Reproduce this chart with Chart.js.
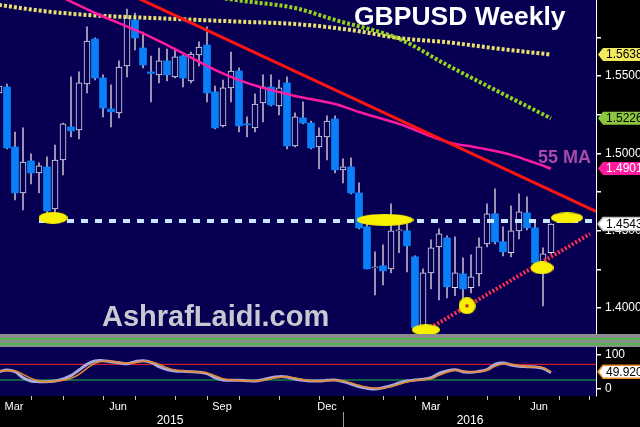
<!DOCTYPE html>
<html>
<head>
<meta charset="utf-8">
<script src="https://cdn.jsdelivr.net/npm/chart.js@4.4.1/dist/chart.umd.min.js"></script>
<style>
  html, body { margin: 0; padding: 0; background: #000; }
  #wrap { position: relative; width: 640px; height: 427px; overflow: hidden; background: #000; font-family: "Liberation Sans", Arial, sans-serif; }
  #main { position: absolute; left: 0; top: 0; }
  #osc { position: absolute; left: 0; top: 347px; }
  #band { position: absolute; left: 0; top: 334px; width: 640px; height: 13px; background: #8c8c8c; }
  #band .g { position: absolute; left: 0; width: 640px; height: 2px; background: #4cb84c; }
  .txt { position: absolute; white-space: nowrap; font-weight: bold; line-height: 1; }
</style>
</head>
<body>
<div id="wrap">
  <canvas id="main" width="640" height="334"></canvas>
  <div id="band"><div class="g" style="top:4px"></div><div class="g" style="top:9px"></div></div>
  <canvas id="osc" width="640" height="80"></canvas>
  <div class="txt" style="left:354px;top:3px;font-size:26.5px;color:#fff">GBPUSD Weekly</div>
  <div class="txt" style="left:538px;top:148px;font-size:18px;color:#a84aa8">55 MA</div>
  <div class="txt" style="left:102px;top:302px;font-size:29px;color:#c8c8d2">AshrafLaidi.com</div>
</div>
<script>
// weekly candles, index 0 = first (partly hidden) bar on the left
const opens  = [1.5390,1.5429,1.5041,1.4744,1.4951,1.4873,1.4912,1.4641,1.4957,1.5171,
                1.5151,1.5448,1.5739,1.5487,1.5287,1.5261,1.5565,1.5862,1.5681,1.5526,
                1.5507,1.5597,1.5494,1.5629,1.5468,1.5636,1.5700,1.5397,1.5177,1.5423,
                1.5532,1.5190,1.5164,1.5326,1.5429,1.5306,1.5455,1.5048,1.5229,1.5196,
                1.5041,1.5106,1.5222,1.4893,1.4912,1.4744,1.4525,1.4260,1.4273,1.4253,
                1.4499,1.4499,1.4331,1.3872,1.4227,1.4395,1.4453,1.4131,1.4221,1.4131,
                1.4221,1.4415,1.4609,1.4428,1.4357,1.4499,1.4615,1.4518,1.4298,1.4357];
const highs  = [1.5448,1.5448,1.5138,1.5164,1.4996,1.4938,1.4977,1.5054,1.5196,1.5494,
                1.5526,1.5817,1.5746,1.5507,1.5442,1.5597,1.5933,1.5907,1.5784,1.5629,
                1.5681,1.5674,1.5681,1.5636,1.5655,1.5720,1.5817,1.5435,1.5474,1.5655,
                1.5552,1.5235,1.5384,1.5507,1.5507,1.5474,1.5494,1.5261,1.5332,1.5209,
                1.5164,1.5242,1.5242,1.4964,1.4970,1.4809,1.4550,1.4363,1.4408,1.4673,
                1.4557,1.4544,1.4337,1.4253,1.4441,1.4512,1.4466,1.4460,1.4324,1.4344,
                1.4453,1.4673,1.4770,1.4525,1.4660,1.4738,1.4718,1.4550,1.4389,1.4544];
const lows   = [1.5377,1.5028,1.4699,1.4634,1.4802,1.4744,1.4615,1.4615,1.4860,1.5106,
                1.5093,1.5390,1.5474,1.5235,1.5171,1.5229,1.5494,1.5668,1.5552,1.5332,
                1.5455,1.5468,1.5487,1.5429,1.5455,1.5565,1.5332,1.5158,1.5171,1.5332,
                1.5138,1.5106,1.5138,1.5203,1.5306,1.5248,1.5028,1.5041,1.5190,1.5028,
                1.4899,1.4957,1.4873,1.4809,1.4738,1.4512,1.4253,1.4085,1.4150,1.4227,
                1.4357,1.4234,1.3859,1.3859,1.4124,1.4053,1.4066,1.4079,1.4053,1.4098,
                1.4143,1.4395,1.4415,1.4337,1.4331,1.4447,1.4505,1.4260,1.4014,1.4350];
const closes = [1.5435,1.5035,1.4744,1.4944,1.4873,1.4919,1.4628,1.4957,1.5190,1.5145,
                1.5455,1.5726,1.5487,1.5293,1.5268,1.5558,1.5875,1.5746,1.5571,1.5516,
                1.5597,1.5507,1.5623,1.5487,1.5642,1.5687,1.5390,1.5164,1.5423,1.5532,
                1.5177,1.5184,1.5319,1.5429,1.5313,1.5423,1.5048,1.5235,1.5196,1.5035,
                1.5112,1.5209,1.4893,1.4912,1.4744,1.4518,1.4253,1.4266,1.4240,1.4499,
                1.4505,1.4402,1.3872,1.4227,1.4389,1.4479,1.4137,1.4227,1.4124,1.4202,
                1.4395,1.4609,1.4428,1.4363,1.4499,1.4621,1.4518,1.4292,1.4350,1.4543];

// moving averages (bar index, price)
const ma200Idx = [0, 6, 12, 19, 25, 31, 37, 44, 50, 56, 62, 69];
const ma200Val = [1.5959,1.5917,1.5891,1.5875,1.5862,1.5849,1.5836,1.5797,1.5745,1.5718,1.5679,1.5638];
const ma100Idx = [27, 30, 37, 42, 50, 56, 62, 69];
const ma100Val = [1.6010,1.5988,1.5939,1.5862,1.5740,1.5571,1.5410,1.5226];
const ma55Idx  = [7, 9, 12, 18, 22, 27, 31, 37, 42, 45, 50, 56, 60, 64, 67, 69];
const ma55Val  = [1.6030,1.5980,1.5907,1.5775,1.5674,1.5539,1.5455,1.5371,1.5319,1.5267,1.5190,1.5074,1.5035,1.4990,1.4938,1.4901];

// drawn lines
const downTrendIdx = [17, 74.625];
const downTrendVal = [1.6012, 1.4624];
const upTrendIdx   = [53.5, 73.875];
const upTrendVal   = [1.3859, 1.4479];
const supportIdx   = [5, 74.625];
const supportVal   = [1.4563, 1.4563];

// highlighted spots
const spotIdx = [6.75, 48.25, 53.375, 58.5, 67.875, 71];
const spotVal = [1.4583, 1.4570, 1.3859, 1.4014, 1.4260, 1.4583];

// price tags on the right axis
const tagValues = [1.5638, 1.5226, 1.4901, 1.4543];

// stochastic oscillator
const stochK = [50,55,50,32,22,20,20,22,28,38, 55,72,82,83,80,77,74,80,83,78,
                65,56,52,51,50,48,44,32,25,24, 24,23,22,26,32,35,34,28,24,22,
                22,24,25,20,13,5,0,-2,2,8, 16,22,25,27,32,45,52,56,50,48,
                51,56,72,76,70,66,65,64,60,47];
const stochD = [52,53,52,42,30,22,20,21,24,30, 42,60,75,81,81,78,75,77,81,80,
                72,62,55,52,50,49,46,38,29,25, 24,23,23,24,29,33,34,31,26,23,
                22,23,24,22,16,9,3,0,0,5, 12,19,24,26,29,39,48,54,52,49,
                50,54,66,73,72,68,65,64,62,50];
const stochLast = 49.920;
const stochHigh = 72, stochLow = 25;

// axis labels
const priceTicks = [1.375,1.400,1.425,1.450,1.475,1.500,1.525,1.550,1.575,1.600];
const monthTickIdx  = [4, 8, 13, 17, 22, 26, 30, 35, 40, 43, 48, 52, 56, 61, 65, 70, 73.75];
const monthLabelIdx = [1.875, 14.875, 27.875, 41, 54, 67.5];
const monthLabels   = ['Mar', 'Jun', 'Sep', 'Dec', 'Mar', 'Jun'];
const yearLabelIdx  = [21.375, 58.875];
const yearLabels    = ['2015', '2016'];
const yearSepIdx    = [43];

const X_MIN = 0.125, X_MAX = 74.625;
const NAVY = '#070052';

const idx = opens.map((_, i) => i);
const upBodies = idx.filter(i => closes[i] >= opens[i]).map(i => ({x: i, y: [opens[i], closes[i]]}));
const downBodies = idx.filter(i => closes[i] < opens[i]).map(i => ({x: i, y: [opens[i], closes[i]]}));
const wicks = idx.map(i => ({x: i, y: [lows[i], highs[i]]}));
const pts = (xs, ys) => xs.map((x, i) => ({x: x, y: ys[i]}));

function spotImage(w, h, dot) {
  const c = document.createElement('canvas');
  c.width = w; c.height = h;
  const g = c.getContext('2d');
  g.fillStyle = '#f8f000';
  g.beginPath();
  g.ellipse(w / 2, h / 2, w / 2, h / 2, 0, 0, Math.PI * 2);
  g.fill();
  if (dot) {
    g.fillStyle = '#d02040';
    g.fillRect(w / 2 - 1.5, h / 2 - 1.5, 3, 3);
  }
  return c;
}
const spotStyles = [spotImage(29, 12), spotImage(57, 12), spotImage(28, 11),
                    spotImage(17, 17, true), spotImage(23, 13), spotImage(32, 11)];

const background = {
  id: 'background',
  beforeDraw(chart) {
    const {ctx, chartArea: a} = chart;
    ctx.save();
    ctx.fillStyle = '#000';
    ctx.fillRect(0, 0, chart.width, chart.height);
    ctx.fillStyle = NAVY;
    ctx.fillRect(a.left, a.top, a.right - a.left, a.bottom - a.top);
    ctx.restore();
  }
};

function drawTag(ctx, y, text, bg, fg, border) {
  const x0 = 598, h = 13;
  ctx.save();
  ctx.beginPath();
  ctx.moveTo(x0, y);
  ctx.lineTo(x0 + 5, y - h / 2);
  ctx.lineTo(641, y - h / 2);
  ctx.lineTo(641, y + h / 2);
  ctx.lineTo(x0 + 5, y + h / 2);
  ctx.closePath();
  ctx.fillStyle = bg;
  ctx.fill();
  if (border) {
    ctx.strokeStyle = border;
    ctx.lineWidth = 1.5;
    ctx.stroke();
  }
  ctx.fillStyle = fg;
  ctx.font = '12px "Liberation Sans", Arial, sans-serif';
  ctx.textBaseline = 'middle';
  ctx.fillText(text, x0 + 8, y + 0.5);
  ctx.restore();
}

const tagColors = [['#f2ea5e', '#000'], ['#8dc63f', '#000'], ['#ff1aa0', '#fff'], ['#ffffff', '#000']];
const priceTags = {
  id: 'priceTags',
  afterDraw(chart) {
    const s = chart.scales.y;
    tagValues.forEach((v, i) => {
      drawTag(chart.ctx, s.getPixelForValue(v), v.toFixed(4), tagColors[i][0], tagColors[i][1], i === 3 ? '#c0c0c0' : null);
    });
  }
};

const stochTag = {
  id: 'stochTag',
  afterDraw(chart) {
    const s = chart.scales.y;
    drawTag(chart.ctx, s.getPixelForValue(stochLast), stochLast.toFixed(3), '#ffffff', '#000', '#e88a28');
  }
};

const fixY = s => { s.width = 44; s.paddingTop = 0; s.paddingBottom = 0; };
const lineDs = (data, color, width, dash, order, extra) => Object.assign({
  type: 'line', data: data, borderColor: color, borderWidth: width, borderDash: dash,
  borderCapStyle: 'butt', pointRadius: 0, fill: false, order: order
}, extra || {});

new Chart(document.getElementById('main'), {
  type: 'bar',
  data: {
    datasets: [
      {type: 'scatter', data: pts(spotIdx, spotVal), pointStyle: spotStyles, pointRadius: 6, order: 0},
      lineDs(pts(supportIdx, supportVal), '#c8e6ff', 4, [7, 7], 1),
      lineDs(pts(upTrendIdx, upTrendVal), '#ff3050', 4, [2, 2], 2),
      lineDs(pts(downTrendIdx, downTrendVal), '#ff1414', 3, [], 3),
      lineDs(pts(ma55Idx, ma55Val), '#ff1aa0', 2.5, [], 4, {cubicInterpolationMode: 'monotone'}),
      lineDs(pts(ma100Idx, ma100Val), '#94d020', 4, [3, 2], 5, {cubicInterpolationMode: 'monotone'}),
      lineDs(pts(ma200Idx, ma200Val), '#e8e070', 4, [3, 2], 6, {cubicInterpolationMode: 'monotone'}),
      {data: upBodies, backgroundColor: NAVY, borderColor: '#dcdcec', borderWidth: 1, borderSkipped: false,
       barThickness: 6, grouped: false, order: 7},
      {data: downBodies, backgroundColor: '#0a80f8', borderWidth: 0, barThickness: 7, grouped: false, order: 7},
      {data: wicks, backgroundColor: '#b4b4c8', borderWidth: 0, barThickness: 1, grouped: false, order: 8}
    ]
  },
  options: {
    responsive: false, animation: false, events: [],
    layout: {padding: 0, autoPadding: false},
    plugins: {legend: {display: false}, tooltip: {enabled: false}},
    scales: {
      x: {type: 'linear', display: false, min: X_MIN, max: X_MAX, offset: false},
      y: {
        type: 'linear', position: 'right', min: 1.3832, max: 1.5991, beginAtZero: false,
        afterFit: fixY,
        afterBuildTicks(s) { s.ticks = priceTicks.filter(v => v >= s.min && v <= s.max).map(v => ({value: v})); },
        ticks: {color: '#fff', padding: 4, autoSkip: false,
                font: {size: 12, family: '"Liberation Sans", Arial, sans-serif'},
                callback: v => (Math.round(v * 1000) % 50 === 0 ? v.toFixed(4) : '')},
        grid: {drawOnChartArea: false, tickLength: 5, color: '#fff', lineWidth: 1.5},
        border: {display: true, color: '#fff', width: 1}
      }
    }
  },
  plugins: [background, priceTags]
});

const flat = v => [{x: X_MIN, y: v}, {x: X_MAX, y: v}];

new Chart(document.getElementById('osc'), {
  type: 'line',
  data: {
    datasets: [
      lineDs(idx.map(i => ({x: i, y: stochD[i]})), '#e88a28', 1.5, [], 0, {tension: 0.4}),
      lineDs(idx.map(i => ({x: i, y: stochK[i]})), '#a8a8dc', 3, [], 1, {tension: 0.4}),
      lineDs(flat(stochHigh), '#ff2020', 1, [], 2),
      lineDs(flat(stochLow), '#20c040', 1, [], 3)
    ]
  },
  options: {
    responsive: false, animation: false, events: [],
    layout: {padding: 0, autoPadding: false},
    plugins: {legend: {display: false}, tooltip: {enabled: false}},
    scales: {
      x: {
        type: 'linear', axis: 'x', position: 'bottom', weight: 0, min: X_MIN, max: X_MAX, offset: false,
        afterFit(s) { s.height = 16; s.paddingLeft = 0; s.paddingRight = 0; },
        afterBuildTicks(s) { s.ticks = monthTickIdx.concat(monthLabelIdx).sort((a, b) => a - b).map(v => ({value: v})); },
        ticks: {autoSkip: false, maxRotation: 0, color: '#fff', padding: 0,
                font: {size: 11, family: '"Liberation Sans", Arial, sans-serif'},
                callback: v => { const k = monthLabelIdx.indexOf(v); return k >= 0 ? monthLabels[k] : ''; }},
        grid: {drawOnChartArea: false, tickLength: 4, lineWidth: 1,
               tickColor: c => (c.tick && monthTickIdx.includes(c.tick.value) ? '#c8c8c8' : 'rgba(0,0,0,0)')},
        border: {display: false}
      },
      xYear: {
        type: 'linear', axis: 'x', position: 'bottom', weight: 1, min: X_MIN, max: X_MAX, offset: false,
        afterFit(s) { s.height = 15; s.paddingLeft = 0; s.paddingRight = 0; },
        afterBuildTicks(s) { s.ticks = yearLabelIdx.concat(yearSepIdx).sort((a, b) => a - b).map(v => ({value: v})); },
        ticks: {autoSkip: false, maxRotation: 0, color: '#fff', padding: -14,
                font: {size: 12, family: '"Liberation Sans", Arial, sans-serif'},
                callback: v => { const k = yearLabelIdx.indexOf(v); return k >= 0 ? yearLabels[k] : ''; }},
        grid: {drawOnChartArea: false, tickLength: 15, lineWidth: 1,
               tickColor: c => (c.tick && yearSepIdx.includes(c.tick.value) ? '#9a9a9a' : 'rgba(0,0,0,0)')},
        border: {display: false}
      },
      y: {
        type: 'linear', position: 'right', min: -23, max: 124,
        afterFit: fixY,
        afterBuildTicks(s) { s.ticks = [0, 100].map(v => ({value: v})); },
        ticks: {color: '#fff', padding: 4, autoSkip: false,
                font: {size: 12, family: '"Liberation Sans", Arial, sans-serif'}},
        grid: {drawOnChartArea: false, tickLength: 5, color: '#fff', lineWidth: 1.5},
        border: {display: true, color: '#fff', width: 1}
      }
    }
  },
  plugins: [background, stochTag]
});
</script>
</body>
</html>
